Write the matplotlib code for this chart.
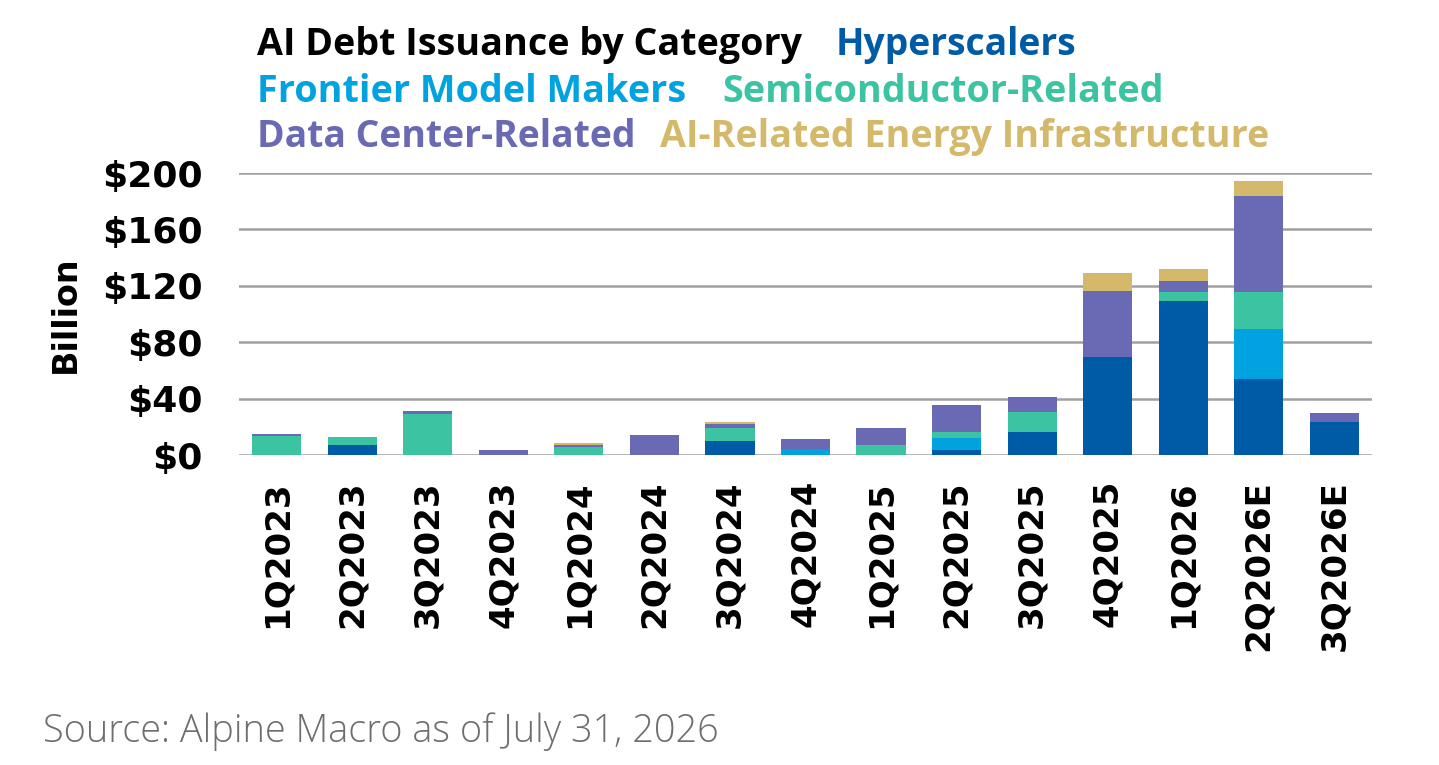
import matplotlib
matplotlib.use("Agg")
import matplotlib.pyplot as plt
import numpy as np

categories = ["1Q2023", "2Q2023", "3Q2023", "4Q2023", "1Q2024", "2Q2024", "3Q2024",
              "4Q2024", "1Q2025", "2Q2025", "3Q2025", "4Q2025", "1Q2026", "2Q2026E", "3Q2026E"]
hyperscalers = [0, 7, 0, 0, 0, 0, 10, 0, 0, 3.5, 16.6, 69.3, 109.2, 53.7, 23.2]
frontier = [0, 0, 0, 0, 0, 0, 0, 4.3, 0, 8.3, 0, 0, 0, 35.7, 0]
semiconductor = [13.5, 5.5, 29, 0, 6, 0, 9.5, 0, 7, 4.2, 14, 0, 6.6, 26, 0]
data_center = [1.5, 0, 2, 3.5, 1, 14, 2.5, 6.8, 12, 19.8, 10.7, 47.2, 7.4, 68.5, 6.4]
energy = [0, 0, 0, 0, 1.5, 0, 1.5, 0, 0, 0, 0, 12.4, 8.5, 10.4, 0]
series_names = ["Hyperscalers", "Frontier Model Makers", "Semiconductor-Related",
                "Data Center-Related", "AI-Related Energy Infrastructure"]
yticks = [0, 40, 80, 120, 160, 200]
ytick_labels = ["$0", "$40", "$80", "$120", "$160", "$200"]
title = "AI Debt Issuance by Category"
source = "Source: Alpine Macro as of July 31, 2026"

colors = ["#005BA6", "#00A3E0", "#3CC4A2", "#6A6AB4", "#D4B96B"]

W, H = 1439, 765
fig = plt.figure(figsize=(W / 100, H / 100), dpi=100)
ax = fig.add_axes([239 / W, 1 - 455 / H, (1372 - 239) / W, (455 - 173) / H])

x = np.arange(len(categories))
bottom = np.zeros(len(categories))
for vals, c in zip([hyperscalers, frontier, semiconductor, data_center, energy], colors):
    v = np.array(vals, dtype=float)
    ax.bar(x, v, 0.65, bottom=bottom, color=c, zorder=3, linewidth=0)
    bottom += v

ax.set_xlim(-0.5, len(categories) - 0.5)
ax.set_ylim(0, 200)
ax.set_yticks(yticks)
ax.set_yticklabels(ytick_labels, fontsize=26, fontweight="bold", family="DejaVu Sans")
ax.set_xticks(x)
ax.set_xticklabels(categories, rotation=90, fontsize=24.5, fontweight="bold", family="DejaVu Sans")
ax.tick_params(axis="both", length=0)
ax.tick_params(axis="y", pad=26)
ax.tick_params(axis="x", pad=18)
ax.grid(axis="y", color="#A0A0A3", linewidth=1.8, zorder=0)
for s in ax.spines.values():
    s.set_visible(False)
ax.set_ylabel("Billion", fontsize=24, fontweight="bold", family="DejaVu Sans")
ax.yaxis.set_label_coords((82 - 239) / (1372 - 239), 0.5)

fig.canvas.draw()
renderer = fig.canvas.get_renderer()


def fit_text(s, x0, x1, baseline, color, weight="bold", family="Open Sans"):
    t = fig.text(x0 / W, 1 - baseline / H, s, fontsize=20, fontweight=weight,
                 family=family, color=color, ha="left", va="baseline")
    w = t.get_window_extent(renderer).width
    t.set_fontsize(20 * (x1 - x0) / w)
    return t


fit_text(title, 257, 802, 55, "black")
fit_text(series_names[0], 836, 1077, 55, colors[0])
fit_text(series_names[1], 257, 686, 102, colors[1])
fit_text(series_names[2], 722, 1162, 102, colors[2])
fit_text(series_names[3], 257, 636, 147, colors[3])
fit_text(series_names[4], 660, 1268, 147, colors[4])
fit_text(source, 43, 718, 742, "#6E6E6E", weight="light")

fig.savefig("out.png", dpi=100)
